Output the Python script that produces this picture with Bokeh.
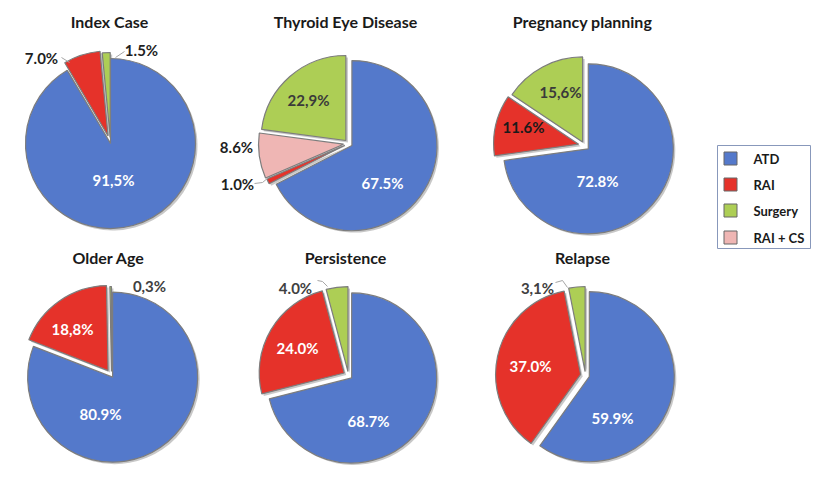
import math
from bokeh.plotting import figure
from bokeh.models import Range1d
from bokeh.core.properties import value
from bokeh.embed import file_html
from bokeh.resources import INLINE

# ---------------- data ----------------
categories = ["ATD", "RAI", "Surgery", "RAI + CS"]
panel_titles = ["Index Case", "Thyroid Eye Disease", "Pregnancy planning",
                "Older Age", "Persistence", "Relapse"]

index_cats = ["ATD", "RAI", "Surgery"]
index_vals = [91.5, 7.0, 1.5]
index_labels = ["91,5%", "7.0%", "1.5%"]

thyroid_cats = ["ATD", "RAI", "RAI + CS", "Surgery"]
thyroid_vals = [67.5, 1.0, 8.6, 22.9]
thyroid_labels = ["67.5%", "1.0%", "8.6%", "22,9%"]

pregnancy_cats = ["ATD", "RAI", "Surgery"]
pregnancy_vals = [72.8, 11.6, 15.6]
pregnancy_labels = ["72.8%", "11.6%", "15,6%"]

older_cats = ["ATD", "RAI", "Surgery"]
older_vals = [80.9, 18.8, 0.3]
older_labels = ["80.9%", "18,8%", "0,3%"]

persistence_cats = ["ATD", "RAI", "Surgery"]
persistence_vals = [68.7, 24.0, 4.0]
persistence_labels = ["68.7%", "24.0%", "4.0%"]

relapse_cats = ["ATD", "RAI", "Surgery"]
relapse_vals = [59.9, 37.0, 3.1]
relapse_labels = ["59.9%", "37.0%", "3,1%"]

# ---------------- styles / layout ----------------
colors = {"ATD": "#5479CB", "RAI": "#E5322A", "Surgery": "#ADCE55", "RAI + CS": "#EFB6B4"}
FONT = value("Lato")
W, H = 831, 477
R = 85

def Y(py):
    return H - py

panels = [
    dict(title=panel_titles[0], cats=index_cats, vals=index_vals, labels=index_labels,
         center=(110, 143), title_pos=(109, 21), explode=[0, 8, 6],
         label_pos=[(113, 179), (41, 57), (141, 49)],
         label_col=["white", "#1f1f1f", "#1f1f1f"],
         leaders=[[], [(61, 57), (69, 62)], [(124, 51), (115, 57)]]),
    dict(title=panel_titles[1], cats=thyroid_cats, vals=thyroid_vals, labels=thyroid_labels,
         center=(348, 143), title_pos=(345, 21), explode=[4, 4, 5, 4],
         label_pos=[(382, 182), (237, 183), (236, 146), (308, 99)],
         label_col=["white", "#1f1f1f", "#1f1f1f", "#3a3a3a"],
         leaders=[[], [(254, 183), (262, 182), (268, 177)], [], []]),
    dict(title=panel_titles[2], cats=pregnancy_cats, vals=pregnancy_vals, labels=pregnancy_labels,
         center=(584, 145), title_pos=(582, 21), explode=[5, 6, 4],
         label_pos=[(597, 180), (523, 126), (560, 91)],
         label_col=["white", "#1a1a1a", "#3a3a3a"],
         leaders=[[], [], []]),
    dict(title=panel_titles[3], cats=older_cats, vals=older_vals, labels=older_labels,
         center=(111, 375), title_pos=(108, 257), explode=[2, 6, 4],
         label_pos=[(100, 413), (72, 328), (149, 285)],
         label_col=["white", "white", "#404040"],
         leaders=[[], [], []]),
    dict(title=panel_titles[4], cats=persistence_cats, vals=persistence_vals, labels=persistence_labels,
         center=(348, 375), title_pos=(345, 257), explode=[4, 5, 4],
         label_pos=[(368, 420), (297, 347), (295, 287)],
         label_col=["white", "white", "#404040"],
         leaders=[[], [], [(317, 280), (322, 281), (327, 286)]]),
    dict(title=panel_titles[5], cats=relapse_cats, vals=relapse_vals, labels=relapse_labels,
         center=(585, 375), title_pos=(582, 257), explode=[4, 5, 4],
         label_pos=[(612, 417), (530, 365), (537, 287)],
         label_col=["white", "white", "#404040"],
         leaders=[[], [], [(555, 282), (562, 280), (567, 287)]]),
]

p = figure(width=W, height=H, x_range=Range1d(0, W), y_range=Range1d(0, H),
           x_axis_type=None, y_axis_type=None, min_border=0,
           toolbar_location=None, output_backend="svg")
p.grid.visible = False
p.outline_line_color = None
p.background_fill_color = "white"

for pn in panels:
    cx, cy = pn["center"]
    total = sum(pn["vals"])
    cum = 0.0
    xs, ys, starts, ends, cols = [], [], [], [], []
    for cat, v, ex in zip(pn["cats"], pn["vals"], pn["explode"]):
        c0 = cum / total
        c1 = (cum + v) / total
        cum += v
        a_start = math.pi / 2 - 2 * math.pi * c1
        a_end = math.pi / 2 - 2 * math.pi * c0
        mid = (a_start + a_end) / 2
        xs.append(cx + ex * math.cos(mid))
        ys.append(Y(cy) + ex * math.sin(mid))
        starts.append(a_start)
        ends.append(a_end)
        cols.append(colors[cat])
    # shadow
    p.wedge(x=[x + 2 for x in xs], y=[y - 2 for y in ys], radius=R,
            start_angle=starts, end_angle=ends,
            fill_color="#9a9a9a", fill_alpha=0.55, line_color=None)
    p.wedge(x=xs, y=ys, radius=R, start_angle=starts, end_angle=ends,
            fill_color=cols, line_color="#7d7d7d", line_width=1.2)
    # leaders
    for pts in pn["leaders"]:
        if pts:
            p.line(x=[q[0] for q in pts], y=[Y(q[1]) for q in pts],
                   line_color="#a6a6a6", line_width=1)
    # labels
    p.text(x=[q[0] for q in pn["label_pos"]], y=[Y(q[1]) for q in pn["label_pos"]],
           text=pn["labels"], text_color=pn["label_col"], text_font=FONT,
           text_font_size="15px", text_font_style="bold",
           text_align="center", text_baseline="middle")
    # title
    p.text(x=[pn["title_pos"][0]], y=[Y(pn["title_pos"][1])], text=[pn["title"]],
           text_color="#1a1a1a", text_font=FONT, text_font_size="16px",
           text_font_style="bold", text_align="center", text_baseline="middle")

# legend
p.quad(left=[717], right=[810], top=[Y(145)], bottom=[Y(248)],
       fill_color="white", line_color="#8898bb", line_width=1)
leg_y = [158, 184, 210, 237]
p.rect(x=[730] * 4, y=[Y(v) for v in leg_y], width=13, height=13,
       fill_color=[colors[c] for c in categories], line_color="#666666", line_width=1)
p.text(x=[753] * 4, y=[Y(v) for v in leg_y], text=categories,
       text_color="#1a1a1a", text_font=FONT, text_font_size="13px",
       text_font_style="bold", text_align="left", text_baseline="middle")

open("out.html", "w").write(file_html(p, INLINE))
